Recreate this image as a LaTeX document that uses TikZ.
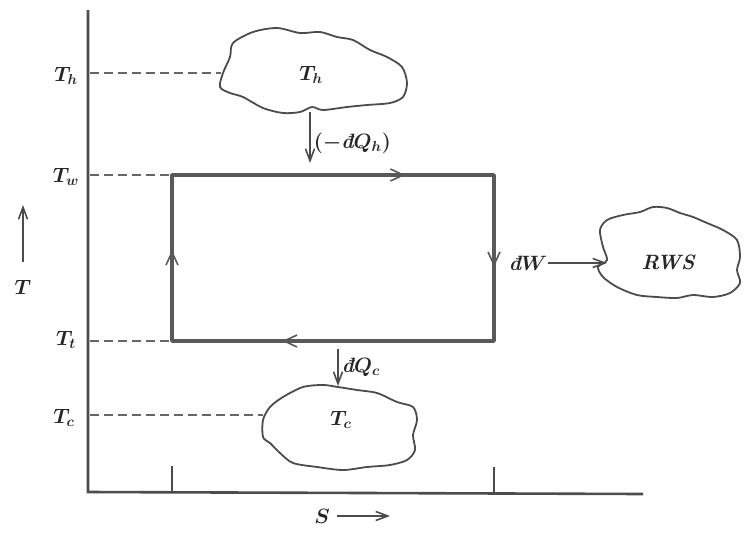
\documentclass[tikz,border=0pt]{standalone}
\usepackage{amsmath}
\usepackage{amssymb}
\usetikzlibrary{arrows.meta,decorations.markings}
\newcommand{\dbar}{\text{\bfseries\itshape đ}}

\begin{document}
\begin{tikzpicture}[x=1pt,y=-1pt,
  axis_line/.style={draw=black!70,line width=2.6pt},
  tick_line/.style={draw=black!70,line width=1.2pt},
  level_line/.style={draw=black!60,line width=1.2pt,dash pattern=on 9pt off 5pt},
  cycle_line/.style={draw=black!65,line width=3.6pt,line join=round,postaction={decorate},
    decoration={markings,
      mark=at position 0.239 with {\arrow{Straight Barb[length=13pt,width=12pt,line width=1.6pt]}},
      mark=at position 0.424 with {\arrow{Straight Barb[length=13pt,width=12pt,line width=1.6pt]}},
      mark=at position 0.717 with {\arrow{Straight Barb[length=13pt,width=12pt,line width=1.6pt]}},
      mark=at position 0.923 with {\arrow{Straight Barb[length=13pt,width=12pt,line width=1.6pt]}}}},
  cloud_line/.style={draw=black!70,line width=1.8pt},
  flow_arrow/.style={draw=black!70,line width=1.6pt,-{Straight Barb[length=12pt,width=9pt]}},
  label_text/.style={text=black!85,font=\fontsize{20.74}{24}\selectfont\boldmath,inner sep=1pt}]
    \useasboundingbox (0,0) rectangle (751,546);

    % axes
    \coordinate (o) at (88,492);
    \draw[axis_line] (88,10) -- (o) -- (643,494);
    \draw[tick_line] (172,492) -- (172,466);
    \draw[tick_line] (494,493) -- (494,467);

    % clouds
    \draw[cloud_line] plot[smooth cycle] coordinates {(233,43) (253,32) (277,28) (300,33) (320,32) (337,37) (353,40) (370,50) (387,57) (402,67) (407,83) (403,97) (390,103) (367,105) (347,107) (323,110) (312,107) (300,112) (283,113) (263,108) (243,97) (230,93) (220,87) (223,73) (230,57)};
    \draw[cloud_line] plot[smooth cycle] coordinates {(270,407) (283,397) (303,387) (323,385) (338,387) (357,390) (377,393) (397,402) (413,407) (417,420) (413,435) (415,450) (407,460) (390,465) (367,467) (343,470) (317,467) (293,463) (280,453) (270,443) (263,437) (263,420)};
    \draw[cloud_line] plot[smooth cycle] coordinates {(600,230) (607,220) (623,215) (640,212) (653,207) (667,208) (680,213) (693,217) (707,223) (723,230) (737,240) (740,257) (737,270) (740,283) (730,293) (713,297) (693,295) (677,298) (657,297) (637,295) (617,287) (603,277) (598,267) (607,260) (603,247)};
    \node[label_text] (hot) at (311,75) {$T_h$};
    \node[label_text] (cold) at (341,420) {$T_c$};
    \node[label_text] (rws) at (668,262) {\bfseries\itshape RWS};

    % levels
    \node[label_text] (lh) at (66,76) {$T_h$};
    \node[label_text] (lw) at (66,177) {$T_w$};
    \node[label_text] (lt) at (66,340) {$T_t$};
    \node[label_text] (lc) at (64,418) {$T_c$};
    \draw[level_line] (90,73) -- (221,73);
    \draw[level_line] (90,175) -- (172,175);
    \draw[level_line] (90,341) -- (172,341);
    \draw[level_line] (90,415) -- (263,415);

    % cycle
    \coordinate (tl) at (172,175);
    \coordinate (tr) at (494,175);
    \coordinate (br) at (494,341);
    \coordinate (bl) at (172,341);
    \draw[cycle_line] (tl) -- (tr) -- (br) -- (bl) -- cycle;

    % heat and work
    \coordinate (hot_out) at (310,112);
    \coordinate (hot_in) at (310,163);
    \draw[flow_arrow] (hot_out) -- (hot_in) node[label_text,pos=0.62,right=2pt] {$(-\dbar Q_h)$};
    \coordinate (cold_out) at (338,349);
    \coordinate (cold_in) at (338,386);
    \draw[flow_arrow] (cold_out) -- (cold_in) node[label_text,midway,right=2pt] {$\dbar Q_c$};
    \node[label_text] (dw) at (528,263) {$\dbar W$};
    \coordinate (rws_in) at (607,263);
    \draw[flow_arrow] (dw.east) -- (rws_in);

    % axis names
    \node[label_text] (tname) at (23,287) {$T$};
    \coordinate (t1) at (23,262);
    \coordinate (t2) at (23,205);
    \draw[flow_arrow] (t1) -- (t2);
    \node[label_text] (sname) at (322,516) {$S$};
    \coordinate (s2) at (390,516);
    \draw[flow_arrow] (sname.east) ++(6,0) -- (s2);
\end{tikzpicture}
\end{document}
